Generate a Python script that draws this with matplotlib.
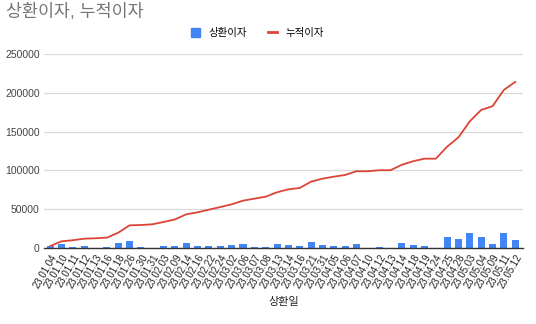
import matplotlib
matplotlib.use("Agg")
import matplotlib.pyplot as plt
from matplotlib.lines import Line2D
from matplotlib.patches import Patch

# ── Data ───────────────────────────────────────────────────
dates = [
    "23.01.04", "23.01.10", "23.01.11", "23.01.12", "23.01.13", "23.01.16",
    "23.01.18", "23.01.26", "23.01.30", "23.01.31", "23.02.03", "23.02.09",
    "23.02.14", "23.02.16", "23.02.22", "23.02.24", "23.03.02", "23.03.06",
    "23.03.07", "23.03.08", "23.03.13", "23.03.14", "23.03.16", "23.03.21",
    "23.03.31", "23.04.05", "23.04.06", "23.04.07", "23.04.10", "23.04.12",
    "23.04.13", "23.04.14", "23.04.18", "23.04.19", "23.04.24", "23.04.25",
    "23.04.28", "23.05.03", "23.05.04", "23.05.09", "23.05.11", "23.05.12",
]
interest = [
    3000, 5200, 1300, 2200, 0, 1300, 6000, 9000, 1000, 300, 3000, 2600,
    6900, 2200, 2600, 3000, 3400, 4700, 1700, 1700, 4700, 3900, 2200, 7700,
    3900, 2200, 2200, 4700, 0, 900, 0, 6900, 3900, 2600, 0, 14600,
    12000, 19700, 13800, 4700, 19700, 10700,
]
cumulative = [
    2500, 8600, 10000, 12000, 12500, 13300, 19700, 29200, 29600, 30500,
    33500, 36800, 43400, 46000, 49400, 52800, 56300, 61000, 63600, 66100,
    71800, 75600, 77300, 85500, 89300, 91900, 94100, 98900, 98900, 100200,
    100200, 107200, 111800, 115100, 115100, 130600, 142700, 163300, 177900,
    182700, 203700, 214000,
]
y_ticks = [0, 50000, 100000, 150000, 200000, 250000]

BLUE = "#4285F4"
RED = "#DB4437"
FONTS = ["Liberation Sans", "Noto Sans CJK KR", "DejaVu Sans"]
plt.rcParams["font.family"] = FONTS

fig = plt.figure(figsize=(5.36, 3.24), dpi=100)
ax = fig.add_axes([0.082, 0.2346, 0.894, 0.5987])

x = list(range(len(dates)))
ax.bar(x, interest, width=0.62, color=BLUE, zorder=3)
ax.plot(x, cumulative, color=RED, linewidth=1.3, zorder=4)

ax.set_xlim(-0.55, 41.7)
ax.set_ylim(0, 250000)
ax.set_yticks(y_ticks)
ax.set_yticklabels([str(v) for v in y_ticks], fontsize=7.5, color="#444444")
ax.set_xticks(x)
ax.set_xticklabels(dates, rotation=60, ha="right", rotation_mode="anchor",
                   fontsize=7, color="#222222")
ax.tick_params(axis="both", length=0, pad=3)
ax.grid(axis="y", color="#d9d9d9", linewidth=0.9, zorder=0)
for side in ["top", "right", "left"]:
    ax.spines[side].set_visible(False)
ax.spines["bottom"].set_color("#333333")
ax.spines["bottom"].set_linewidth(1.0)
ax.spines["bottom"].set_zorder(5)

ax.set_xlabel("상환일", fontsize=8, color="#222222", labelpad=5)
fig.text(0.012, 0.965, "상환이자, 누적이자", fontsize=12.5, color="#757575",
         va="center", ha="left")

handles = [
    Patch(facecolor=BLUE, edgecolor=BLUE),
    Line2D([0], [0], color=RED, linewidth=2),
]
fig.legend(handles, ["상환이자", "누적이자"], loc="center",
           bbox_to_anchor=(0.48, 0.898), ncol=2, frameon=False,
           fontsize=7.5, handlelength=0.9, handleheight=0.9,
           columnspacing=2.0, handletextpad=0.8)

fig.savefig("out.png", dpi=100)
